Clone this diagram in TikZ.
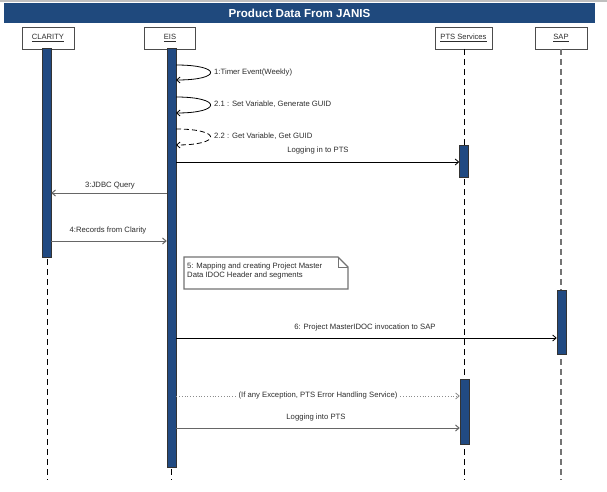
\documentclass[tikz,border=0pt]{standalone}
\usepackage{fontspec}
\setmainfont{Liberation Sans}
\usetikzlibrary{arrows.meta}
\definecolor{titleblue}{RGB}{31,73,125}
\definecolor{barblue}{RGB}{33,74,130}
\definecolor{txtgray}{RGB}{45,45,45}
\tikzset{
  hdr/.style={draw=black!70, line width=0.9pt, fill=white, minimum height=22pt, inner sep=0pt, font=\fontsize{7.6}{9}\selectfont, text=txtgray},
  lifeline/.style={draw=black, line width=0.9pt, dash pattern=on 6pt off 4pt},
  lifelinegray/.style={draw=black!55, line width=1.1pt, dash pattern=on 6pt off 4pt},
  actbar/.style={draw=black!80, line width=0.5pt, fill=barblue, minimum width=9pt, inner sep=0pt},
  msg/.style={draw=black, line width=0.8pt, -{Straight Barb[length=3.5pt,width=6pt]}},
  msggray/.style={draw=black!60, line width=1pt, -{Straight Barb[length=3.5pt,width=6pt]}},
  msgdot/.style={draw=black!45, line width=0.8pt, dotted, -{Straight Barb[length=3.5pt,width=6pt]}},
  lbl/.style={font=\fontsize{7.7}{9.2}\selectfont, text=txtgray, inner sep=1pt},
  notebox/.style={draw=black!55, line width=1.2pt, fill=white}
}
\begin{document}
\begin{tikzpicture}[x=1pt,y=-1pt]
\useasboundingbox (0,0) rectangle (607,492);
\fill[white] (0,0) rectangle (607,492);
\fill[black!25] (0,0) rectangle (607,2.5);
% title bar
\node[fill=titleblue, minimum width=591pt, minimum height=20pt, inner sep=0pt, text=white, font=\bfseries\fontsize{11.6}{13}\selectfont] (title) at (299.5,13) {Product Data From JANIS};
% headers
\node[hdr, minimum width=52pt] (clarity) at (48,38) {\underline{CLARITY}};
\node[hdr, minimum width=51pt] (eis) at (170,38) {\underline{EIS}};
\node[hdr, minimum width=57pt] (pts) at (463.5,38) {\underline{PTS Services}};
\node[hdr, minimum width=52pt] (sap) at (561,38) {\underline{SAP}};
% lifeline ends
\coordinate (clarityEnd) at (47,480);
\coordinate (eisEnd) at (171.5,480);
\coordinate (ptsEnd) at (464,480);
\coordinate (sapEnd) at (561,480);
\draw[lifeline] (47,49) -- (clarityEnd);
\draw[lifeline] (171.5,49) -- (eisEnd);
\draw[lifeline] (464,49) -- (ptsEnd);
\draw[lifelinegray] (561,49) -- (sapEnd);
% activation bars
\node[actbar, minimum height=209pt] (clarityBar) at (46.5,152.5) {};
\node[actbar, minimum height=419pt] (eisBar) at (171.5,257.5) {};
\node[actbar, minimum height=32pt] (ptsBarA) at (464,161) {};
\node[actbar, minimum height=64pt] (sapBar) at (561.5,322) {};
\node[actbar, minimum height=65pt] (ptsBarB) at (464.5,411.5) {};
% self messages
\coordinate (s1a) at (176,65);  \coordinate (s1b) at (176,80);
\coordinate (s2a) at (176,97);  \coordinate (s2b) at (176,113);
\coordinate (s3a) at (176,129); \coordinate (s3b) at (176,145);
\draw[msg] (s1a) .. controls +(46,0) and +(46,0) .. (s1b);
\draw[msg] (s2a) .. controls +(46,0) and +(46,0) .. (s2b);
\draw[msg, dash pattern=on 5pt off 3pt] (s3a) .. controls +(46,0) and +(46,0) .. (s3b);
\node[lbl, anchor=west] (l1) at (213,72.5) {1:Timer Event(Weekly)};
\node[lbl, anchor=west] (l21) at (213,104.5) {2.1 : Set Variable, Generate GUID};
\node[lbl, anchor=west] (l22) at (213,136.5) {2.2 : Get Variable, Get GUID};
% Logging in to PTS
\draw[msg] (eisBar.east |- 0,162) -- (ptsBarA.west |- 0,162);
\node[lbl] (lLog1) at (318,151) {Logging in to PTS};
% JDBC
\draw[msggray] (eisBar.west |- 0,193) -- (clarityBar.east |- 0,193);
\node[lbl] (l3) at (110,186) {3:JDBC Query};
% Records
\draw[msggray] (clarityBar.east |- 0,241) -- (eisBar.west |- 0,241);
\node[lbl] (l4) at (108,231) {4:Records from Clarity};
% note
\draw[notebox] (184,257) -- (338,257) -- (348,267) -- (348,289) -- (184,289) -- cycle;
\draw[black!55, line width=0.8pt] (338,257) -- (338,267) -- (348,267);
\node[lbl, anchor=north west, align=left] (note) at (186,262) {5: Mapping and creating Project Master\\Data IDOC Header and segments};
% 6
\draw[msg] (eisBar.east |- 0,338) -- (sapBar.west |- 0,338);
\node[lbl] (l6) at (365,328) {6: Project MasterIDOC invocation to SAP};
% exception (dotted)
\draw[msgdot] (eisBar.east |- 0,396) -- (ptsBarB.west |- 0,396);
\node[lbl, fill=white, inner sep=1.5pt] (lEx) at (318,396) {(If any Exception, PTS Error Handling Service)};
% Logging into PTS
\draw[msggray] (eisBar.east |- 0,428) -- (ptsBarB.west |- 0,428);
\node[lbl] (lLog2) at (316,418) {Logging into PTS};
\end{tikzpicture}
\end{document}
